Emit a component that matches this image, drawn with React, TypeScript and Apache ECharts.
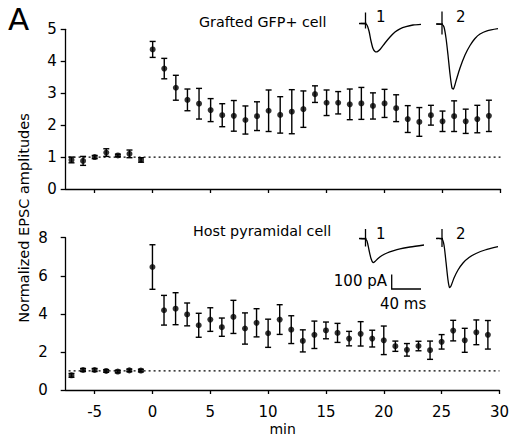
import React, { useEffect, useRef } from "react";
import * as echarts from "echarts";

const minutes = [-7, -6, -5, -4, -3, -2, -1, 0, 1, 2, 3, 4, 5, 6, 7, 8, 9, 10, 11, 12, 13, 14, 15, 16, 17, 18, 19, 20, 21, 22, 23, 24, 25, 26, 27, 28, 29];

const gfpMean = [0.91, 0.88, 1.0, 1.14, 1.05, 1.1, 0.91, 4.37, 3.77, 3.17, 2.79, 2.67, 2.47, 2.31, 2.29, 2.16, 2.28, 2.45, 2.32, 2.42, 2.5, 2.97, 2.7, 2.7, 2.65, 2.68, 2.6, 2.68, 2.53, 2.19, 2.1, 2.31, 2.12, 2.28, 2.12, 2.19, 2.29];
const gfpSem = [0.09, 0.14, 0.05, 0.12, 0.04, 0.12, 0.07, 0.25, 0.32, 0.39, 0.34, 0.48, 0.36, 0.36, 0.48, 0.44, 0.45, 0.65, 0.57, 0.69, 0.57, 0.26, 0.4, 0.35, 0.48, 0.5, 0.41, 0.44, 0.42, 0.42, 0.45, 0.31, 0.32, 0.48, 0.38, 0.43, 0.49];

const hostMean = [0.77, 1.05, 1.05, 1.0, 0.97, 1.03, 1.02, 6.46, 4.19, 4.27, 3.97, 3.4, 3.7, 3.3, 3.84, 3.23, 3.53, 2.98, 3.7, 3.17, 2.58, 2.9, 3.13, 3.0, 2.7, 2.95, 2.7, 2.61, 2.3, 2.11, 2.31, 2.09, 2.53, 3.12, 2.61, 3.03, 2.9];
const hostSem = [0.1, 0.08, 0.08, 0.07, 0.07, 0.07, 0.07, 1.17, 0.78, 0.84, 0.6, 0.63, 0.62, 0.48, 0.87, 0.82, 0.74, 0.74, 0.78, 0.73, 0.58, 0.72, 0.44, 0.5, 0.38, 0.64, 0.44, 0.75, 0.27, 0.33, 0.25, 0.48, 0.38, 0.54, 0.63, 0.65, 0.75];

const xTicks = [-5, 0, 5, 10, 15, 20, 25, 30];
const baselineLevel = 1;

const FONT = "DejaVu Sans";

function errorItem(params: any, api: any) {
  const x = api.value(0);
  const top = api.coord([x, api.value(2)]);
  const bot = api.coord([x, api.value(1)]);
  const hw = 3;
  const style = { stroke: "#000", lineWidth: 1.4 };
  return {
    type: "group",
    children: [
      { type: "line", shape: { x1: top[0], y1: top[1], x2: bot[0], y2: bot[1] }, style },
      { type: "line", shape: { x1: top[0] - hw, y1: top[1], x2: top[0] + hw, y2: top[1] }, style },
      { type: "line", shape: { x1: bot[0] - hw, y1: bot[1], x2: bot[0] + hw, y2: bot[1] }, style },
    ],
  };
}

const traceTop1 = [[359, 23.5], [365, 23.8], [367, 25], [369, 31], [371, 41], [373, 48.5], [375, 51.5], [377, 51.8], [380, 49.5], [385, 43], [390, 37], [395, 32], [400, 28.8], [406, 26.6], [413, 25], [421, 24.3]];
const traceTop2 = [[436, 24], [442, 24.5], [444, 27], [446, 38], [448, 55], [450, 74], [452, 88], [453.5, 89], [456, 81], [460, 68], [465, 55], [470, 45.5], [475, 38.5], [480, 34], [487, 30.8], [498, 28.7]];
const traceBot1 = [[359, 238.5], [365, 239], [367, 241], [369, 250], [371, 258.5], [373, 262.5], [375, 261.5], [378, 258.5], [382, 255.5], [387, 253], [393, 250.8], [400, 248.8], [410, 247], [424, 245]];
const traceBot2 = [[436, 238.5], [442, 239], [444, 245], [446, 262], [448, 280], [449.5, 287.5], [451, 286], [454, 278], [458, 270], [463, 263], [469, 257.5], [476, 253.5], [485, 250], [498, 246.7]];

export default function App() {
  const ref = useRef<HTMLDivElement>(null);
  useEffect(() => {
    if (!ref.current) return;
    const chart = echarts.init(ref.current, null, { renderer: "svg" });
    const axisLine = { onZero: false, lineStyle: { color: "#000", width: 1.3 } };
    const lineStyleG = { stroke: "#000", lineWidth: 1.3, fill: null };
    const mkTrace = (pts: number[][]) => ({ type: "polyline", shape: { points: pts, smooth: 0.25 }, style: { stroke: "#000", lineWidth: 1.3, fill: null } });
    const mkArt = (x: number, y1: number, y2: number, yb: number) => [
      { type: "line", shape: { x1: x, y1, x2: x, y2 }, style: lineStyleG },
      { type: "line", shape: { x1: x - 5, y1: yb, x2: x + 1, y2: yb }, style: lineStyleG },
    ];
    const txt = (text: string, x: number, y: number, size: number, align = "left", extra: any = {}) => ({
      type: "text",
      x,
      y,
      ...extra,
      style: { text, fill: "#000", font: `${size}px "${FONT}"`, textAlign: align, textVerticalAlign: "middle" },
    });
    const gfpErr = minutes.map((m, i) => [m, gfpMean[i] - gfpSem[i], gfpMean[i] + gfpSem[i]]);
    const hostErr = minutes.map((m, i) => [m, hostMean[i] - hostSem[i], hostMean[i] + hostSem[i]]);
    const baseLine = [[-7.25, baselineLevel], [30, baselineLevel]];

    chart.setOption({
      animation: false,
      backgroundColor: "#fff",
      textStyle: { fontFamily: FONT },
      grid: [
        { left: 65.7, top: 29.3, width: 434.8, height: 159.7 },
        { left: 65.7, top: 237.7, width: 434.8, height: 159.3 },
      ],
      xAxis: [0, 1].map((g) => ({
        type: "value",
        gridIndex: g,
        min: -7.5,
        max: 30,
        axisLine,
        axisTick: { show: true, length: 4, lineStyle: { color: "#000", width: 1.3 }, customValues: xTicks },
        axisLabel: g === 0 ? { show: false } : { show: true, customValues: xTicks, color: "#000", fontSize: 15, margin: 14, fontFamily: FONT },
        splitLine: { show: false },
        name: g === 1 ? "min" : "",
        nameLocation: "middle",
        nameGap: 32,
        nameTextStyle: { color: "#000", fontSize: 14, fontFamily: FONT },
      })),
      yAxis: [
        {
          type: "value",
          gridIndex: 0,
          min: 0,
          max: 5,
          interval: 1,
          axisLine: { show: true, ...axisLine },
          axisTick: { show: true, length: 5, lineStyle: { color: "#000", width: 1.3 } },
          axisLabel: { color: "#000", fontSize: 15, margin: 9, fontFamily: FONT },
          splitLine: { show: false },
        },
        {
          type: "value",
          gridIndex: 1,
          min: 0,
          max: 8,
          interval: 2,
          axisLine: { show: true, ...axisLine },
          axisTick: { show: true, length: 5, lineStyle: { color: "#000", width: 1.3 } },
          axisLabel: { color: "#000", fontSize: 15, margin: 18, fontFamily: FONT },
          splitLine: { show: false },
        },
      ],
      series: [
        { type: "line", xAxisIndex: 0, yAxisIndex: 0, data: baseLine, showSymbol: false, lineStyle: { color: "#000", width: 1.2, type: [2, 3] }, silent: true },
        { type: "line", xAxisIndex: 1, yAxisIndex: 1, data: baseLine, showSymbol: false, lineStyle: { color: "#000", width: 1.2, type: [2, 3] }, silent: true },
        { type: "custom", xAxisIndex: 0, yAxisIndex: 0, data: gfpErr, renderItem: errorItem, encode: { x: 0, y: [1, 2] } },
        { type: "custom", xAxisIndex: 1, yAxisIndex: 1, data: hostErr, renderItem: errorItem, encode: { x: 0, y: [1, 2] } },
        { type: "scatter", xAxisIndex: 0, yAxisIndex: 0, data: minutes.map((m, i) => [m, gfpMean[i]]), symbolSize: 6, itemStyle: { color: "#000" } },
        { type: "scatter", xAxisIndex: 1, yAxisIndex: 1, data: minutes.map((m, i) => [m, hostMean[i]]), symbolSize: 6, itemStyle: { color: "#000" } },
      ],
      graphic: [
        txt("A", 8, 19, 31),
        txt("Grafted GFP+ cell", 199, 21.5, 14.3),
        txt("Host pyramidal cell", 193, 231, 14.3),
        txt("Normalized EPSC amplitudes", 24, 218, 14.5, "center", { rotation: Math.PI / 2 }),
        mkTrace(traceTop1),
        ...mkArt(365.5, 12.5, 28.5, 23.3),
        mkTrace(traceTop2),
        ...mkArt(442, 11.5, 34.5, 24),
        mkTrace(traceBot1),
        ...mkArt(365.5, 229, 246.5, 238.5),
        mkTrace(traceBot2),
        ...mkArt(442, 229, 247, 238.5),
        txt("1", 376, 17, 15),
        txt("2", 456, 17, 15),
        txt("1", 376, 233.5, 15),
        txt("2", 456, 233.5, 15),
        { type: "polyline", shape: { points: [[391.7, 274.5], [391.7, 289], [421, 289]] }, style: lineStyleG },
        txt("100 pA", 387, 281, 15, "right"),
        txt("40 ms", 380, 303.5, 15),
      ],
    });
    return () => chart.dispose();
  }, []);
  return <div ref={ref} style={{ position: "fixed", left: 0, top: 0, width: 512, height: 437, background: "#fff" }} />;
}
